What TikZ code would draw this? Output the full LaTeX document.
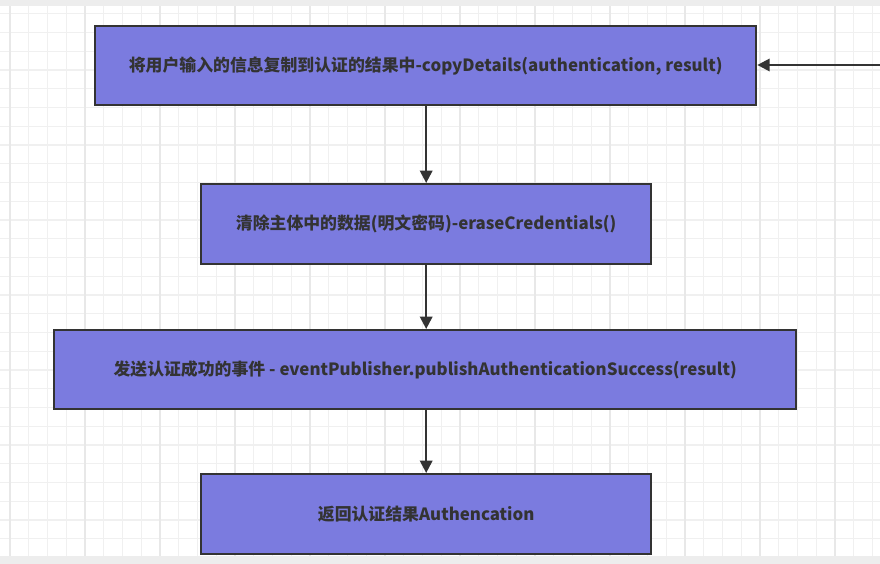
\documentclass[tikz,border=0pt]{standalone}
\usepackage{fontspec}
\setmainfont{Noto Sans CJK SC}
\usetikzlibrary{arrows.meta}
\definecolor{boxfill}{HTML}{7B7BDF}
\definecolor{boxline}{HTML}{333333}
\tikzset{
    stage/.style={rectangle, draw=boxline, line width=1.4pt, fill=boxfill, text=boxline, font=\fontsize{9.6}{12}\selectfont\bfseries, anchor=north west, inner sep=0pt, align=center},
    flow/.style={draw=boxline, line width=1.3pt, -{Triangle[length=7pt, width=7pt]}}
}
\begin{document}
\begin{tikzpicture}[x=0.02cm, y=-0.02cm]
    \useasboundingbox (0,0) rectangle (880,564);
    \fill[white] (0,0) rectangle (880,564);
    % grid
    \foreach \i in {0,...,47}
    {
        \draw[black!6, line width=0.6pt] (10+18.75*\i,6) -- (10+18.75*\i,556);
    }
    \foreach \i in {0,...,30}
    {
        \draw[black!6, line width=0.6pt] (0,-5+18.75*\i) -- (880,-5+18.75*\i);
    }
    \foreach \i in {0,...,11}
    {
        \draw[black!9, line width=0.9pt] (10+75*\i,6) -- (10+75*\i,556);
    }
    \fill[black!7] (0,0) rectangle (880,6);
    \fill[black!7] (0,556) rectangle (880,564);
    % boxes
    \node[stage, minimum width=13.22cm, minimum height=1.58cm] (copy) at (94,25) {将用户输入的信息复制到认证的结果中-copyDetails(authentication, result)};
    \node[stage, minimum width=9cm, minimum height=1.6cm] (erase) at (200,183) {清除主体中的数据(明文密码)-eraseCredentials()};
    \node[stage, minimum width=14.84cm, minimum height=1.58cm] (publish) at (53,329) {发送认证成功的事件 - eventPublisher.publishAuthenticationSuccess(result)};
    \node[stage, minimum width=9cm, minimum height=1.6cm] (ret) at (200,473) {返回认证结果Authencation};
    \coordinate (in) at (880,65);
    % arrows
    \draw[flow] (copy.south -| erase) -- (erase);
    \draw[flow] (erase) -- (publish.north -| erase);
    \draw[flow] (publish.south -| erase) -- (ret);
    \draw[flow] (in) -- (copy.east |- in);
\end{tikzpicture}
\end{document}
